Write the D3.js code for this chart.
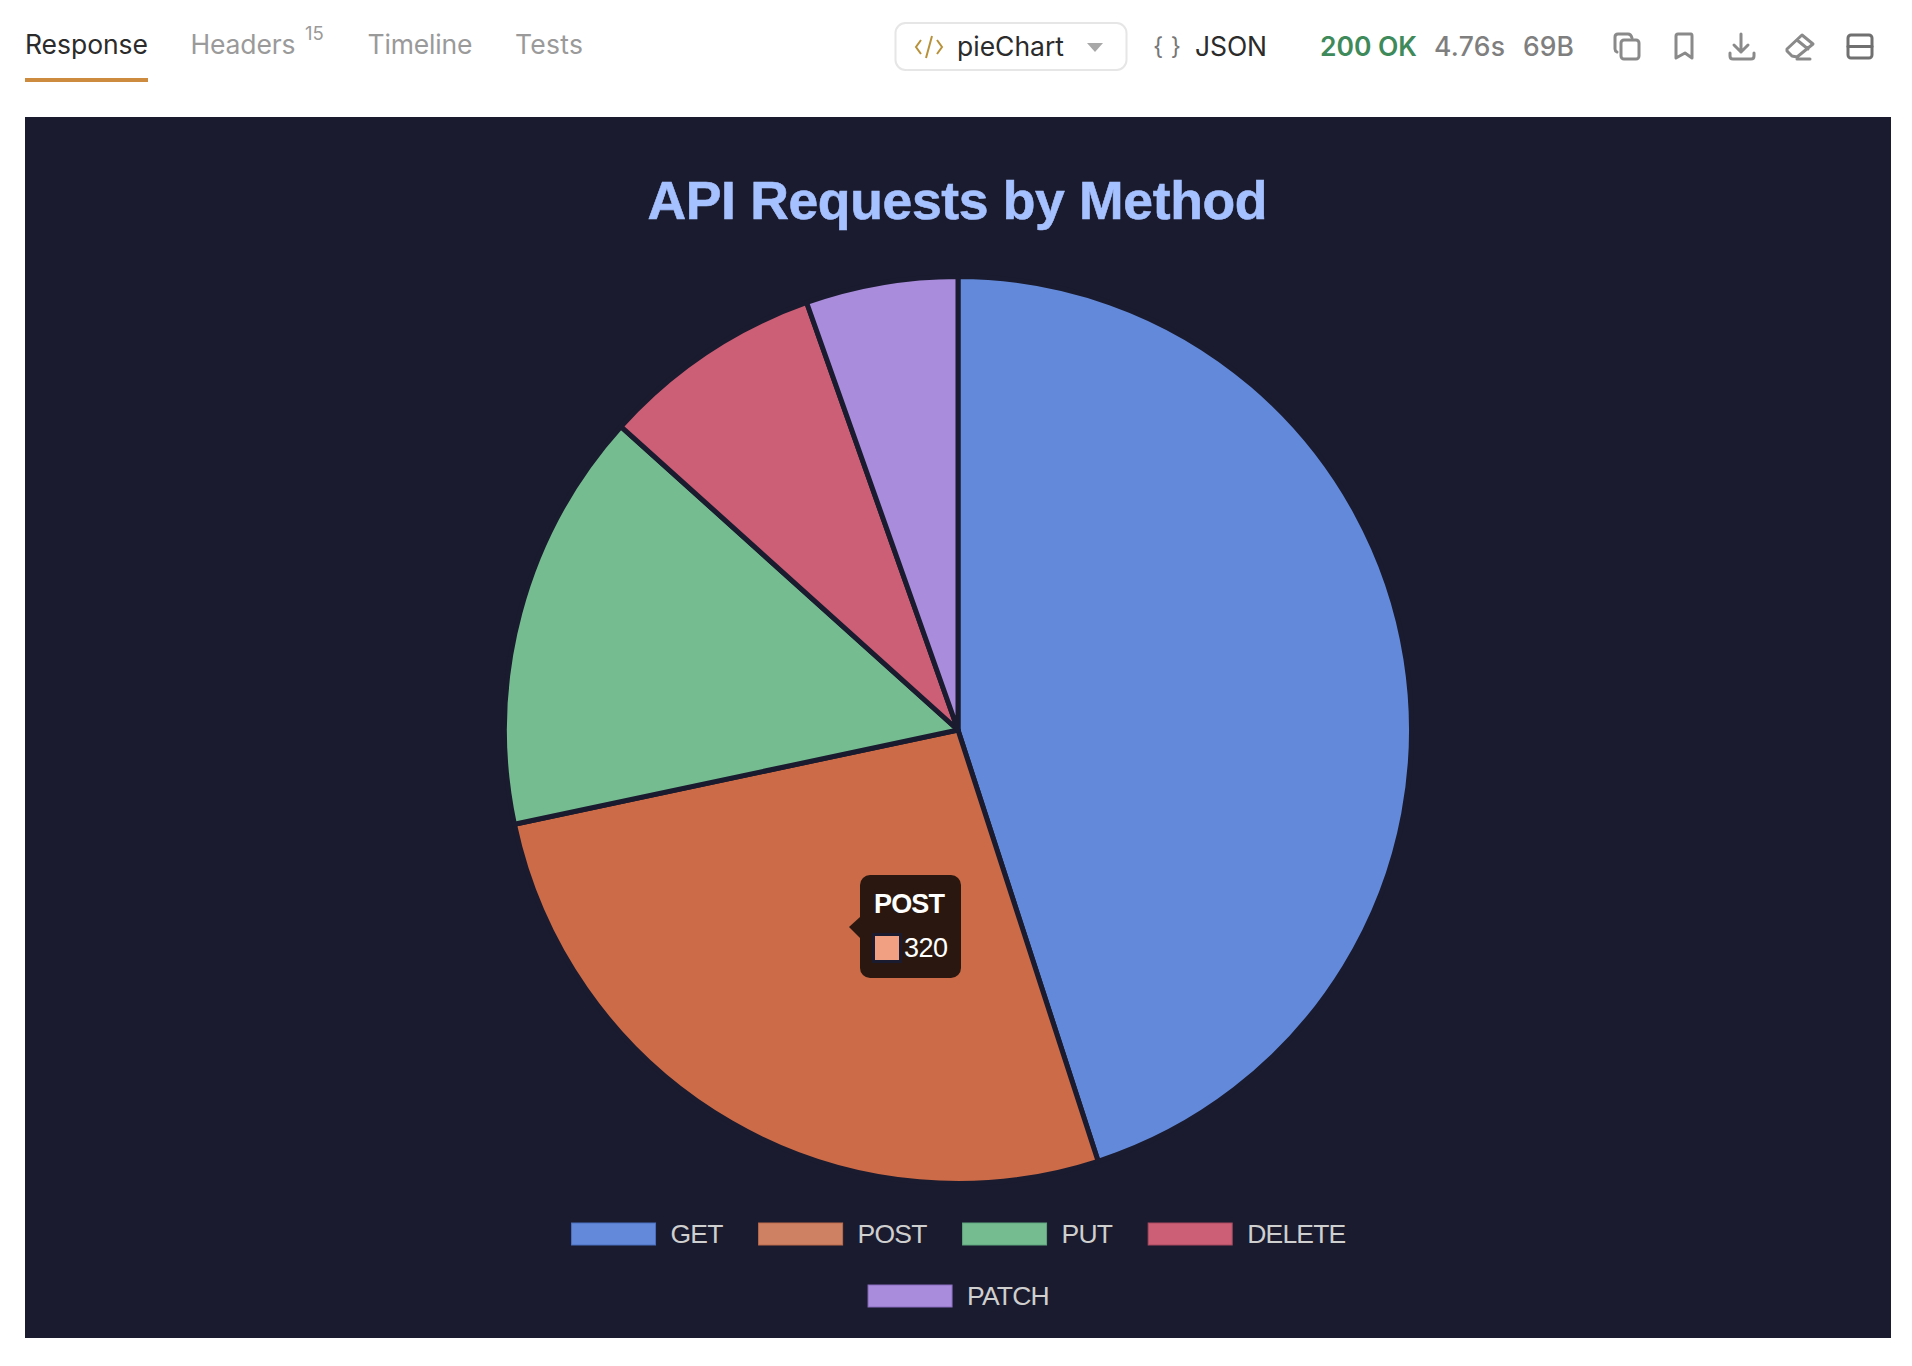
<!DOCTYPE html>
<html><head><meta charset="utf-8">
<script src="https://cdn.jsdelivr.net/npm/d3@7/dist/d3.min.js"></script>
<style>html,body{margin:0;padding:0;background:#fff;overflow:hidden}svg{display:block}</style>
</head><body><svg id="c" width="1912" height="1366"></svg>
<script>
const categories = ["GET","POST","PUT","DELETE","PATCH"];
const values = [540,320,180,95,65];
const sliceColors = ["#638ada","#cc6b48","#75bc91","#cc5f76","#a98cdc"];
const legendColors = ["#638ada","#cf8263","#75bc91","#cc5f76","#a98cdc"];
const legendBorders = ["#4a70c0","#bb6a4b","#5fa67c","#a84a60","#8a6cc0"];
const tabs = ["Response","Headers","Timeline","Tests"];
const chartTitle = "API Requests by Method";
const activeCategory = "POST";

const svg = d3.select("#c");
const INTER = "Inter, sans-serif", LIB = "'Liberation Sans', Arial, sans-serif";

/* ---- top bar ---- */
function label(x,y,t,o={}){
  return svg.append("text").attr("x",x).attr("y",y).text(t)
    .attr("font-family",o.f||INTER).attr("font-size",o.s||26).attr("font-weight",o.w||400)
    .attr("fill",o.c||"#333").attr("text-anchor",o.a||"start");
}
const tabX = [25,190.5,367.5,515], tabW=[123,105,105,68];
tabs.forEach((t,i)=>{
  label(tabX[i],54,t,{s:26.5,c:i===0?"#2b2b2b":"#9a9a9a"}).attr("textLength",tabW[i]);
});
label(305,40,"15",{s:18.5,c:"#9a9a9a"});
svg.append("rect").attr("x",25).attr("y",78).attr("width",123).attr("height",4).attr("fill","#cc8b3f");

svg.append("rect").attr("x",895.5).attr("y",23).attr("width",231).attr("height",47).attr("rx",10)
  .attr("fill","#fff").attr("stroke","#e6e6e6").attr("stroke-width",2);
const ic=svg.append("g").attr("fill","none").attr("stroke","#b8923a").attr("stroke-width",2);
ic.append("path").attr("d","M921 40L916 47L921 54M937 40L942 47L937 54M932 36L926 58");
label(957,56,"pieChart",{s:26.5,c:"#2b2b2b"}).attr("textLength",107);
svg.append("path").attr("d","M1087 43H1103L1095 52Z").attr("fill","#a8a8a8");
label(1153,55,"{ }",{s:24,c:"#777"}).attr("textLength",28);
label(1195,56,"JSON",{s:26.5,c:"#2b2b2b"}).attr("textLength",72);
label(1320,56,"200 OK",{s:26.5,w:600,c:"#3f8a5a"}).attr("textLength",97);
label(1434,56,"4.76s",{s:26.5,w:500,c:"#7f7f7f"}).attr("textLength",71);
label(1523,56,"69B",{s:26.5,w:500,c:"#7f7f7f"}).attr("textLength",51);

const ig=svg.append("g").attr("fill","none").attr("stroke","#8a8a8a").attr("stroke-width",3)
  .attr("stroke-linejoin","round").attr("stroke-linecap","round");
ig.append("path").attr("d","M1617 52Q1615 51 1615 49V37Q1615 34 1618 34H1628Q1631 34 1632 38");
ig.append("rect").attr("x",1621).attr("y",40).attr("width",18).attr("height",19).attr("rx",3);
ig.append("path").attr("d","M1678 34H1691Q1692 34 1692 36V58L1685 53L1676 58V36Q1676 34 1678 34Z");
ig.append("path").attr("d","M1741 34V52M1734 45L1741 52L1748 45M1730 53V56Q1730 59 1733 59H1751Q1754 59 1754 56V53");
ig.append("path").attr("d","M1802 35L1813 44L1797 57L1792 56L1787 51L1787 49ZM1797 40L1808 49M1797 59H1810");
ig.append("rect").attr("x",1848).attr("y",35).attr("width",24).attr("height",23).attr("rx",3).attr("stroke","#707070");
ig.append("path").attr("d","M1848 46.5H1872").attr("stroke","#707070");

/* ---- chart panel ---- */
svg.append("rect").attr("x",25).attr("y",117).attr("width",1866).attr("height",1221).attr("fill","#1a1b2e");

svg.append("text").attr("x",647.5).attr("y",219)
  .attr("font-family",LIB).attr("font-weight",700).attr("font-size",53.5).attr("fill","#a6c1ff")
  .attr("stroke","#a6c1ff").attr("stroke-width",0.6)
  .attr("textLength",620).text(chartTitle);

const cx=958, cy=730, R=453.5;
const pie=d3.pie().sort(null).value(d=>d.v);
const arc=d3.arc().innerRadius(0).outerRadius(R);
const pieData=pie(categories.map((c,i)=>({c,v:values[i],color:sliceColors[i]})));
svg.append("g").attr("transform",`translate(${cx},${cy})`)
  .selectAll("path").data(pieData).join("path")
  .attr("d",arc).attr("fill",d=>d.data.color)
  .attr("stroke","#1a1b2e").attr("stroke-width",5).attr("stroke-linejoin","round");

/* ---- legend ---- */
const rowBreak=4, swW=84, swH=22, swGap=15, itemGap=36, rowY=[1223,1285];
const lg=svg.append("g");
const rows=[categories.slice(0,rowBreak),categories.slice(rowBreak)];
rows.forEach((row,r)=>{
  const items=row.map(c=>{
    const t=lg.append("text").attr("font-family",LIB).attr("font-size",26.5).attr("letter-spacing",-0.8)
      .attr("fill","#cfcfcf").attr("y",rowY[r]+swH-2.5).text(c);
    return {c,t,w:t.node().getComputedTextLength()};
  });
  const total=d3.sum(items,d=>d.w+swW+swGap)+itemGap*(items.length-1);
  let x=cx+0.5-total/2;
  items.forEach(it=>{
    const i=categories.indexOf(it.c);
    lg.append("rect").attr("x",x).attr("y",rowY[r]).attr("width",swW).attr("height",swH)
      .attr("fill",legendColors[i]).attr("stroke",legendBorders[i]).attr("stroke-width",1);
    it.t.attr("x",x+swW+swGap);
    x+=swW+swGap+it.w+itemGap;
  });
});

/* ---- tooltip ---- */
const ai=categories.indexOf(activeCategory);
const tip=svg.append("g");
tip.append("path").attr("d","M860 917L849 927L860 938Z").attr("fill","#2a1810");
tip.append("rect").attr("x",860).attr("y",875).attr("width",101).attr("height",103).attr("rx",10).attr("fill","#2a1810");
tip.append("text").attr("x",874).attr("y",913).attr("font-family",LIB).attr("font-weight",700)
  .attr("font-size",27).attr("fill","#fff").attr("textLength",71).text(categories[ai]);
tip.append("rect").attr("x",873.5).attr("y",934.5).attr("width",27).attr("height",27)
  .attr("fill","#f2a082").attr("stroke","#1a1b2e").attr("stroke-width",3);
tip.append("text").attr("x",904).attr("y",957).attr("font-family",LIB).attr("font-size",27)
  .attr("fill","#fff").attr("textLength",44).text(values[ai]);
</script></body></html>
